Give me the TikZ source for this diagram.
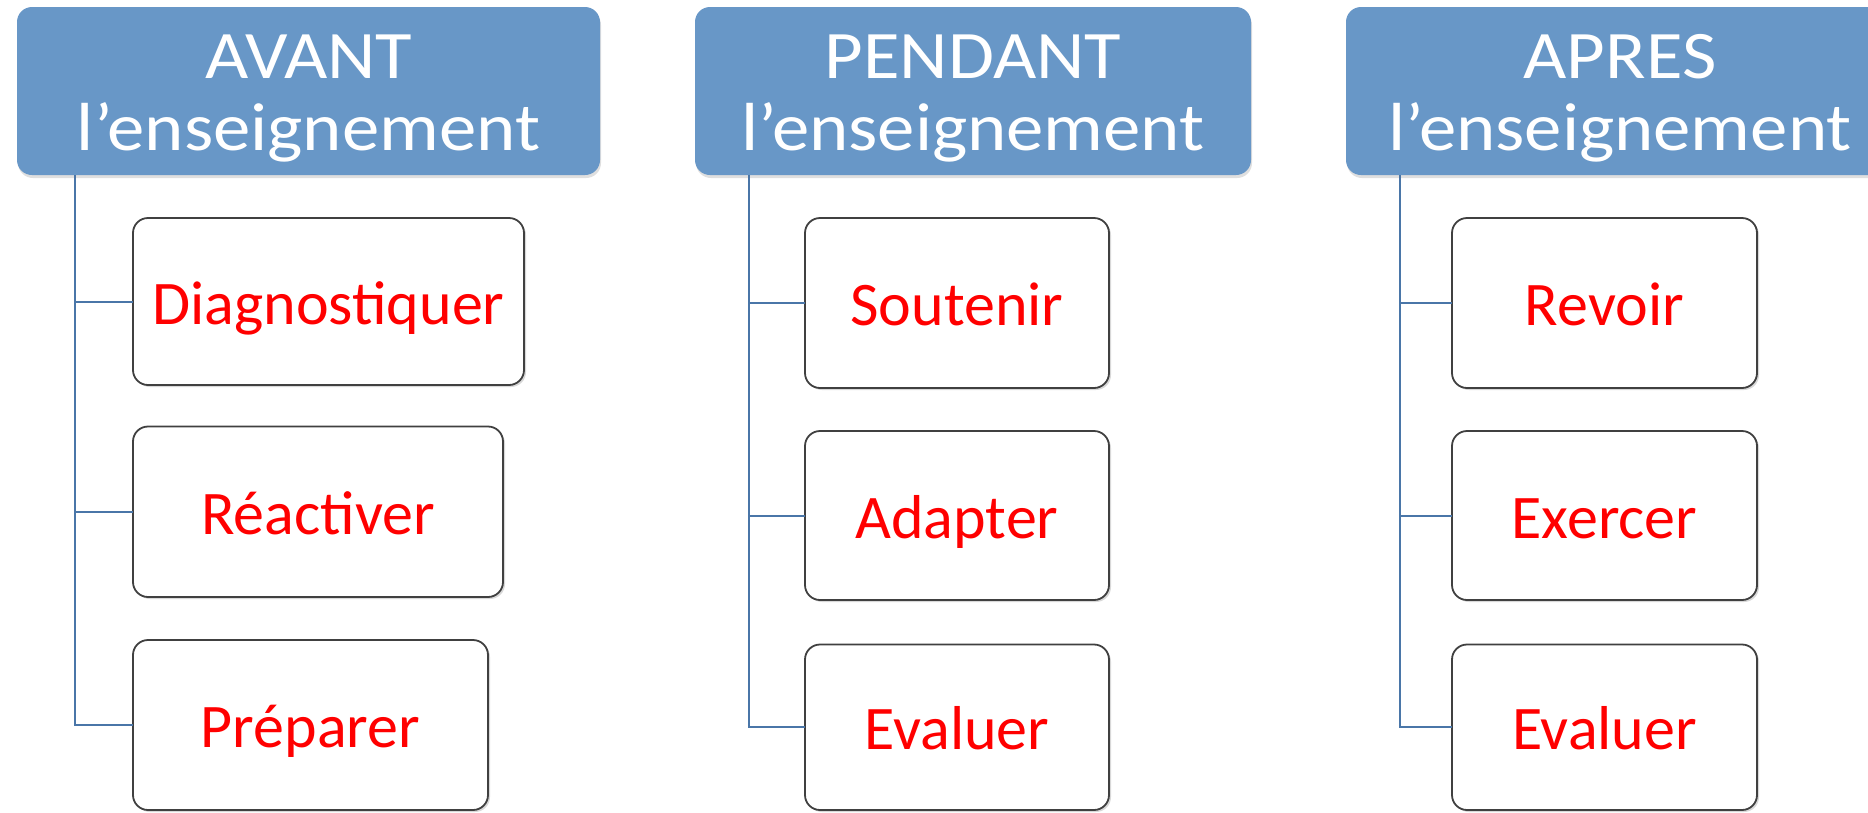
\documentclass[tikz,border=0pt]{standalone}
\usepackage{fontspec}
\setmainfont{Carlito}
\newfontfamily\hdrfont[FakeStretch=1.1]{Carlito}
\usetikzlibrary{shadows}
\definecolor{hdr}{HTML}{6897C7}
\definecolor{connc}{HTML}{4A76A8}
\definecolor{boxc}{HTML}{404040}
\newcommand{\hdrstrut}{\rule{0pt}{57.8pt}}
\begin{document}
\begin{tikzpicture}[x=1pt,y=-1pt,
  header/.style={fill=hdr, draw=none, rounded corners=15pt, inner sep=0pt, outer sep=0pt,
    text=white, align=center, font=\hdrfont\fontsize{68}{72}\selectfont,
    drop shadow={shadow xshift=1pt, shadow yshift=-3pt, opacity=0.25}},
  child/.style={fill=white, draw=boxc, line width=1.8pt, rounded corners=15pt, inner sep=0pt, outer sep=0pt,
    text=red, font=\fontsize{62}{66}\selectfont, text height=45pt, text depth=0pt,
    drop shadow={shadow xshift=2pt, shadow yshift=-2pt, opacity=0.3}},
  conn/.style={draw=connc, line width=2pt}]
\clip (0,0) rectangle (1868,812);
\useasboundingbox (0,0) rectangle (1868,812);
\fill[white] (0,0) rectangle (1868,812);

% column 1
\node[header, minimum width=583pt, minimum height=168pt] (h1) at (308.5,91) {\hdrstrut AVANT\\l’enseignement};
\node[child, minimum width=391pt, minimum height=167pt] (c11) at (328.5,301.5) {Diagnostiquer};
\node[child, minimum width=370pt, minimum height=170.5pt] (c12) at (318,511.75) {Réactiver};
\node[child, minimum width=355pt, minimum height=170pt] (c13) at (310.5,725) {Préparer};
\coordinate (t1) at (75,175);

% column 2
\node[header, minimum width=556pt, minimum height=168pt] (h2) at (973,91) {\hdrstrut PENDANT\\l’enseignement};
\node[child, minimum width=304pt, minimum height=170pt] (c21) at (957,303) {Soutenir};
\node[child, minimum width=304pt, minimum height=169pt] (c22) at (957,515.5) {Adapter};
\node[child, minimum width=304pt, minimum height=165.5pt] (c23) at (957,727.25) {Evaluer};
\coordinate (t2) at (749,175);

% column 3
\node[header, minimum width=548pt, minimum height=168pt] (h3) at (1620,91) {\hdrstrut APRES\\l’enseignement};
\node[child, minimum width=305pt, minimum height=170pt] (c31) at (1604.5,303) {Revoir};
\node[child, minimum width=305pt, minimum height=169pt] (c32) at (1604.5,515.5) {Exercer};
\node[child, minimum width=305pt, minimum height=165.5pt] (c33) at (1604.5,727.25) {Evaluer};
\coordinate (t3) at (1400,175);

% connectors
\foreach \t/\c in {t1/c11,t1/c12,t1/c13,t2/c21,t2/c22,t2/c23,t3/c31,t3/c32,t3/c33}
  \draw[conn] (\t) |- (\c.west);
\end{tikzpicture}
\end{document}
